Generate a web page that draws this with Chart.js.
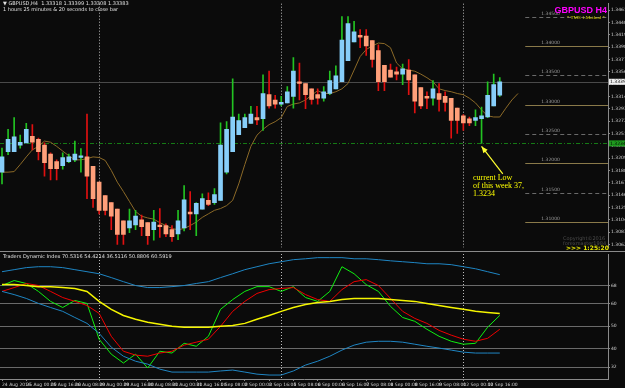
<!DOCTYPE html>
<html>
<head>
<meta charset="utf-8">
<script src="https://cdn.jsdelivr.net/npm/chart.js@4.4.0/dist/chart.umd.min.js"></script>
<style>
html, body { margin: 0; padding: 0; background: #0b0b0b; }
#wrap { position: relative; width: 625px; height: 388px; overflow: hidden; background: #0b0b0b; }
#main { position: absolute; left: 0; top: 0; }
#ind { position: absolute; left: 0; top: 251px; }
</style>
</head>
<body>
<div id="wrap">
  <canvas id="main" width="625" height="251"></canvas>
  <canvas id="ind" width="625" height="137"></canvas>
</div>
<script>
// ---------- candles (GBPUSD H4, 24 Aug 08:00 -> 13 Sep 00:00) ----------
const opens  = [1.3185,1.3220,1.3220,1.3231,1.3235,1.3246,1.3241,1.3231,1.3216,1.3203,
                1.3196,1.3203,1.3206,1.3210,1.3211,1.3195,1.3168,1.3145,1.3133,1.3122,
                1.3102,1.3090,1.3095,1.3104,1.3099,1.3087,1.3095,1.3094,1.3087,1.3080,
                1.3090,1.3117,1.3114,1.3122,1.3137,1.3133,1.3137,1.3185,1.3220,1.3249,
                1.3261,1.3268,1.3278,1.3276,1.3317,1.3308,1.3301,1.3303,1.3314,1.3339,
                1.3336,1.3327,1.3317,1.3311,1.3319,1.3327,1.3339,1.3375,1.3407,1.3418,
                1.3417,1.3409,1.3392,1.3367,1.3359,1.3356,1.3352,1.3359,1.3351,1.3329,
                1.3314,1.3311,1.3319,1.3314,1.3311,1.3294,1.3281,1.3276,1.3273,1.3276,
                1.3279,1.3298,1.3316];
const highs  = [1.3226,1.3258,1.3278,1.3248,1.3268,1.3266,1.3243,1.3235,1.3218,1.3206,
                1.3218,1.3216,1.3238,1.3225,1.3284,1.3195,1.3168,1.3145,1.3133,1.3122,
                1.3102,1.3122,1.3120,1.3112,1.3099,1.3120,1.3123,1.3097,1.3094,1.3120,
                1.3162,1.3152,1.3133,1.3148,1.3150,1.3157,1.3269,1.3271,1.3344,1.3284,
                1.3284,1.3297,1.3297,1.3351,1.3357,1.3316,1.3314,1.3331,1.3380,1.3371,
                1.3336,1.3327,1.3327,1.3331,1.3357,1.3366,1.3450,1.3450,1.3442,1.3428,
                1.3428,1.3409,1.3402,1.3367,1.3369,1.3364,1.3369,1.3377,1.3351,1.3329,
                1.3322,1.3341,1.3336,1.3322,1.3311,1.3294,1.3283,1.3279,1.3291,1.3296,
                1.3339,1.3352,1.3346];
const lows   = [1.3165,1.3215,1.3220,1.3226,1.3235,1.3223,1.3206,1.3178,1.3172,1.3172,
                1.3190,1.3201,1.3203,1.3185,1.3140,1.3125,1.3114,1.3112,1.3087,1.3062,
                1.3062,1.3082,1.3087,1.3077,1.3062,1.3069,1.3074,1.3075,1.3067,1.3070,
                1.3085,1.3087,1.3077,1.3122,1.3128,1.3130,1.3137,1.3182,1.3220,1.3249,
                1.3261,1.3268,1.3266,1.3256,1.3294,1.3294,1.3298,1.3303,1.3294,1.3308,
                1.3293,1.3301,1.3301,1.3306,1.3317,1.3327,1.3339,1.3375,1.3407,1.3397,
                1.3384,1.3364,1.3324,1.3324,1.3347,1.3342,1.3334,1.3317,1.3286,1.3293,
                1.3293,1.3299,1.3289,1.3289,1.3243,1.3251,1.3256,1.3264,1.3264,1.3234,
                1.3278,1.3298,1.3314];
const closes = [1.3211,1.3241,1.3245,1.3236,1.3258,1.3236,1.3220,1.3201,1.3191,1.3191,
                1.3210,1.3211,1.3216,1.3213,1.3178,1.3140,1.3120,1.3120,1.3110,1.3079,
                1.3079,1.3102,1.3110,1.3092,1.3077,1.3100,1.3092,1.3080,1.3075,1.3102,
                1.3138,1.3114,1.3132,1.3140,1.3130,1.3147,1.3231,1.3258,1.3279,1.3273,
                1.3278,1.3284,1.3274,1.3319,1.3298,1.3301,1.3304,1.3322,1.3357,1.3336,
                1.3317,1.3309,1.3311,1.3322,1.3341,1.3349,1.3410,1.3438,1.3424,1.3415,
                1.3400,1.3377,1.3339,1.3339,1.3347,1.3352,1.3361,1.3342,1.3306,1.3298,
                1.3311,1.3327,1.3309,1.3304,1.3273,1.3273,1.3269,1.3269,1.3278,1.3281,
                1.3316,1.3334,1.3339];

// displaced moving average (runs 3 bars past the last candle)
const maValues = [1.3185,1.3185,1.3186,1.3198,1.3211,1.3223,1.3229,1.3238,1.3236,1.3229,
                  1.3221,1.3213,1.3206,1.3206,1.3208,1.3211,1.3210,1.3205,1.3188,1.3168,
                  1.3152,1.3135,1.3118,1.3110,1.3107,1.3105,1.3099,1.3094,1.3089,1.3087,
                  1.3089,1.3094,1.3100,1.3108,1.3114,1.3120,1.3123,1.3128,1.3137,1.3165,
                  1.3198,1.3229,1.3248,1.3258,1.3266,1.3271,1.3278,1.3297,1.3301,1.3303,
                  1.3308,1.3316,1.3324,1.3319,1.3319,1.3322,1.3327,1.3336,1.3359,1.3382,
                  1.3394,1.3400,1.3405,1.3404,1.3397,1.3371,1.3361,1.3359,1.3357,1.3352,
                  1.3346,1.3339,1.3327,1.3324,1.3322,1.3319,1.3317,1.3311,1.3303,1.3291,
                  1.3281,1.3279,1.3279,1.3294,1.3308,1.3319];

// ---------- Traders Dynamic Index (sampled every 2 bars) ----------
const tdiIdx = [0,2,4,6,8,10,12,14,16,18,20,22,24,26,28,30,32,34,36,38,40,
                42,44,46,48,50,52,54,56,58,60,62,64,66,68,70,72,74,76,78,80,82];
const tdiUpper  = [74.1,75.0,75.9,76.3,76.3,75.9,75.0,74.1,73.2,71.5,69.7,68.0,67.1,67.1,67.5,68.0,68.9,69.7,71.5,73.2,75.0,
                   76.3,77.6,78.5,79.4,79.8,80.3,80.3,80.3,79.8,79.8,79.4,78.9,78.5,78.1,77.6,77.6,77.2,76.3,75.4,74.1,72.8];
const tdiLower  = [65.4,64.0,62.3,60.1,58.3,56.6,53.9,51.3,46.9,40.8,36.8,34.6,33.3,31.1,29.8,29.8,29.8,29.8,30.3,30.7,29.8,
                   28.9,28.5,28.5,30.3,32.9,34.6,36.8,39.5,41.7,43.0,43.4,43.4,43.0,42.1,41.2,40.4,39.5,38.6,38.2,38.2,38.2];
const tdiMid    = [68.4,68.4,68.0,67.5,67.5,67.1,66.7,65.4,61.0,57.5,54.8,53.1,51.8,50.9,50.0,49.6,49.6,49.6,50.0,50.4,51.3,
                   53.1,54.8,56.6,58.3,59.6,60.5,61.0,61.8,62.3,62.3,62.3,61.8,61.4,61.0,60.1,59.2,58.3,57.5,56.6,56.1,55.7];
const tdiRsi    = [68.0,70.2,68.9,65.4,61.0,58.3,61.4,60.1,44.3,37.7,33.8,37.7,31.6,39.0,38.2,42.5,41.2,45.6,57.5,61.8,65.4,
                   67.5,67.5,65.4,67.5,62.7,61.0,65.4,76.3,73.2,68.4,65.4,58.8,53.9,52.2,48.7,45.6,43.4,42.1,42.5,49.6,54.8];
const tdiSignal = [65.4,67.1,68.9,68.0,65.4,62.7,61.0,59.2,55.7,45.6,39.0,37.3,36.8,38.2,39.0,41.7,43.0,44.3,50.0,56.6,61.0,
                   64.5,66.2,66.7,67.1,64.0,61.8,61.0,66.2,69.7,70.6,68.0,62.3,56.6,53.5,51.3,48.2,46.1,44.3,43.4,44.7,48.7];
const tdiLevels = [68, 60, 50, 40, 32];

// ---------- axes ----------
const timeIdx = [0,4,8,12,16,20,24,28,32,36,40,44,48,52,56,60,64,68,72,76,80];
const timeLabels = ["24 Aug 2016","25 Aug 00:00","25 Aug 16:00","26 Aug 08:00","29 Aug 00:00","29 Aug 16:00",
                    "30 Aug 08:00","31 Aug 00:00","31 Aug 16:00","1 Sep 08:00","2 Sep 00:00","2 Sep 16:00",
                    "5 Sep 08:00","6 Sep 00:00","6 Sep 16:00","7 Sep 08:00","8 Sep 00:00","8 Sep 16:00",
                    "9 Sep 08:00","12 Sep 00:00","12 Sep 16:00"];
const weekSeparators = [16, 46, 76];
const priceTicks = [1.34610,1.34400,1.34190,1.33980,1.33770,1.33560,1.33350,1.33140,1.32930,1.32720,
                    1.32510,1.32300,1.32090,1.31880,1.31670,1.31460,1.31250,1.31040,1.30830,1.30620];
const roundLevels = [1.340, 1.330, 1.320, 1.310];
const halfLevels  = [1.345, 1.335, 1.325, 1.315];
const weekLow = 1.3234;
const lastPrice = 1.3339;

const X_MIN = -0.33, X_MAX = 99.83;
const BG = '#0b0b0b';
const FONT = 'DejaVu Sans';

Chart.defaults.font.family = FONT;
Chart.defaults.color = '#cfcfcf';

const bull = closes.map((c, i) => c >= opens[i]);

// ---------- overlay for the price window ----------
const priceOverlay = {
  id: 'priceOverlay',
  beforeDatasetsDraw(chart) {
    const { ctx, chartArea: a, scales: { x, y } } = chart;
    ctx.save();
    // week separators
    ctx.strokeStyle = '#bdbdbd';
    ctx.lineWidth = 1;
    ctx.setLineDash([1, 2]);
    weekSeparators.forEach(i => {
      const px = Math.round(x.getPixelForValue(i)) + 0.5;
      ctx.beginPath(); ctx.moveTo(px, a.top); ctx.lineTo(px, a.bottom); ctx.stroke();
    });
    // bid line
    ctx.setLineDash([]);
    ctx.strokeStyle = '#4a4a4a';
    let py = Math.round(y.getPixelForValue(lastPrice)) + 0.5;
    ctx.beginPath(); ctx.moveTo(a.left, py); ctx.lineTo(a.right, py); ctx.stroke();
    // week low line
    ctx.strokeStyle = '#157a15';
    ctx.setLineDash([4, 2, 1, 2]);
    py = Math.round(y.getPixelForValue(weekLow)) + 0.5;
    ctx.beginPath(); ctx.moveTo(a.left, py); ctx.lineTo(a.right, py); ctx.stroke();
    // price levels on the right
    const x0 = x.getPixelForValue(86.2);
    ctx.font = '4.5px ' + FONT;
    ctx.textAlign = 'left';
    ctx.textBaseline = 'bottom';
    roundLevels.forEach(v => {
      const ly = Math.round(y.getPixelForValue(v)) + 0.5;
      ctx.setLineDash([]);
      ctx.strokeStyle = '#8a7a4a';
      ctx.beginPath(); ctx.moveTo(x0, ly); ctx.lineTo(a.right, ly); ctx.stroke();
      ctx.fillStyle = '#9a9a9a';
      ctx.fillText(v.toFixed(5), x0 + 16, ly - 1);
    });
    halfLevels.forEach(v => {
      const ly = Math.round(y.getPixelForValue(v)) + 0.5;
      ctx.setLineDash([4, 3]);
      ctx.strokeStyle = '#6a6a6a';
      ctx.beginPath(); ctx.moveTo(x0, ly); ctx.lineTo(a.right, ly); ctx.stroke();
      ctx.fillStyle = '#9a9a9a';
      ctx.fillText(v.toFixed(5), x0 + 16, ly - 1);
    });
    ctx.restore();
  },
  afterDraw(chart) {
    const { ctx, chartArea: a, scales: { x, y } } = chart;
    ctx.save();
    // header
    ctx.font = '5px ' + FONT;
    ctx.fillStyle = '#e0e0e0';
    ctx.textAlign = 'left';
    ctx.textBaseline = 'middle';
    ctx.fillText('\u25BC GBPUSD,H4  1.33318 1.33399 1.33308 1.33383', 3, 4);
    ctx.fillText('1 hours 25 minutes & 20 seconds to close bar', 3, 10);
    // symbol badge
    ctx.font = 'bold 9px "Liberation Sans"';
    ctx.fillStyle = '#ff00ff';
    ctx.textAlign = 'right';
    ctx.fillText('GBPUSD H4', 607, 11);
    ctx.font = '5px "Liberation Serif"';
    ctx.fillStyle = '#d8d800';
    ctx.fillText('* TMS 1.Method *', 605, 18);
    // copyright + timer
    ctx.font = '5px ' + FONT;
    ctx.fillStyle = '#4c4c4c';
    ctx.textAlign = 'left';
    ctx.fillText('Copyright\u00A92016', 563, 239);
    ctx.fillText('forexmaster1984', 563, 244);
    ctx.font = 'bold 6px ' + FONT;
    ctx.fillStyle = '#e6e600';
    ctx.fillText('>>> 1:25:20', 566, 248);
    // annotation arrow
    const tx = x.getPixelForValue(79), ty = y.getPixelForValue(weekLow) + 3;
    const sx = x.getPixelForValue(82.5), sy = y.getPixelForValue(1.3182);
    ctx.strokeStyle = '#ffff30';
    ctx.fillStyle = '#ffff30';
    ctx.lineWidth = 1.2;
    ctx.beginPath(); ctx.moveTo(sx, sy); ctx.lineTo(tx, ty); ctx.stroke();
    const ang = Math.atan2(ty - sy, tx - sx);
    ctx.beginPath();
    ctx.moveTo(tx, ty);
    ctx.lineTo(tx - 7 * Math.cos(ang - 0.4), ty - 7 * Math.sin(ang - 0.4));
    ctx.lineTo(tx - 7 * Math.cos(ang + 0.4), ty - 7 * Math.sin(ang + 0.4));
    ctx.closePath(); ctx.fill();
    ctx.font = '8px "Liberation Serif"';
    ctx.fillStyle = '#ffff00';
    ctx.textAlign = 'left';
    ctx.fillText('current Low', 473, 178);
    ctx.fillText('of this week 37,', 473, 186);
    ctx.fillText('1.3234', 473, 194);
    // price boxes on the axis
    const box = (v, bg, fg) => {
      const by = y.getPixelForValue(v);
      ctx.fillStyle = bg;
      ctx.fillRect(a.right + 1, by - 3, 17, 6);
      ctx.fillStyle = fg;
      ctx.font = '4.5px ' + FONT;
      ctx.textAlign = 'left';
      ctx.fillText(v.toFixed(5), a.right + 2, by);
    };
    box(lastPrice, '#f0f0f0', '#000');
    box(weekLow, '#1e9a1e', '#000');
    ctx.restore();
  }
};

new Chart(document.getElementById('main'), {
  type: 'bar',
  data: {
    datasets: [
      {
        type: 'line',
        data: maValues.map((v, i) => ({ x: i, y: v })),
        borderColor: '#8c6a28',
        borderWidth: 1,
        pointRadius: 0,
        order: 3
      },
      {
        data: highs.map((h, i) => ({ x: i, y: [lows[i], h] })),
        backgroundColor: bull.map(b => b ? '#22c322' : '#e01010'),
        barThickness: 1,
        grouped: false,
        order: 2
      },
      {
        data: opens.map((o, i) => ({ x: i, y: [Math.min(o, closes[i]), Math.max(o, closes[i])] })),
        backgroundColor: bull.map(b => b ? '#87cefa' : '#ffa07a'),
        barThickness: 4,
        minBarLength: 1,
        grouped: false,
        order: 1
      }
    ]
  },
  options: {
    responsive: false,
    animation: false,
    devicePixelRatio: 1,
    layout: { padding: 0 },
    plugins: { legend: { display: false }, tooltip: { enabled: false } },
    scales: {
      x: { type: 'linear', min: X_MIN, max: X_MAX, display: false, offset: false },
      y: {
        position: 'right',
        min: 1.3057,
        max: 1.3472,
        afterFit(s) { s.width = 17; },
        afterBuildTicks(s) { s.ticks = priceTicks.map(v => ({ value: v })); },
        ticks: { callback: v => Number(v).toFixed(5), font: { size: 4.5 }, color: '#cfcfcf', padding: 1 },
        grid: { drawOnChartArea: false, tickLength: 2, color: '#8a8a8a' },
        border: { color: '#8a8a8a' }
      }
    }
  },
  plugins: [priceOverlay]
});

// ---------- indicator window ----------
const indOverlay = {
  id: 'indOverlay',
  beforeDatasetsDraw(chart) {
    const { ctx, chartArea: a, scales: { x } } = chart;
    ctx.save();
    ctx.strokeStyle = '#bdbdbd';
    ctx.lineWidth = 1;
    ctx.setLineDash([1, 2]);
    weekSeparators.forEach(i => {
      const px = Math.round(x.getPixelForValue(i)) + 0.5;
      ctx.beginPath(); ctx.moveTo(px, 0); ctx.lineTo(px, a.bottom); ctx.stroke();
    });
    ctx.setLineDash([]);
    ctx.strokeStyle = '#8a8a8a';
    ctx.beginPath(); ctx.moveTo(0, 0.5); ctx.lineTo(625, 0.5); ctx.stroke();
    ctx.restore();
  },
  afterDraw(chart) {
    const { ctx } = chart;
    ctx.save();
    ctx.font = '5px ' + FONT;
    ctx.fillStyle = '#e0e0e0';
    ctx.textBaseline = 'middle';
    ctx.fillText('Traders Dynamic Index 70.5316 54.4214 36.5116 50.8806 60.5919', 3, 6);
    ctx.restore();
  }
};

const tdiLine = (vals, color, width) => ({
  data: vals.map((v, k) => ({ x: tdiIdx[k], y: v })),
  borderColor: color,
  borderWidth: width,
  pointRadius: 0,
  tension: 0
});

new Chart(document.getElementById('ind'), {
  type: 'line',
  data: {
    datasets: [
      tdiLine(tdiUpper, '#1f86c4', 1),
      tdiLine(tdiLower, '#1f86c4', 1),
      tdiLine(tdiMid, '#f5f500', 1.5),
      tdiLine(tdiSignal, '#f00000', 1),
      tdiLine(tdiRsi, '#10f010', 1)
    ]
  },
  options: {
    responsive: false,
    animation: false,
    devicePixelRatio: 1,
    layout: { padding: { top: 2, left: 0, right: 0, bottom: 0 } },
    plugins: { legend: { display: false }, tooltip: { enabled: false } },
    scales: {
      x: {
        type: 'linear', min: X_MIN, max: X_MAX, offset: false,
        afterFit(s) { s.height = 9; },
        afterBuildTicks(s) { s.ticks = timeIdx.map(v => ({ value: v })); },
        ticks: {
          callback: v => timeLabels[timeIdx.indexOf(v)],
          autoSkip: false, maxRotation: 0, align: 'start',
          font: { size: 4.5 }, color: '#cfcfcf', padding: 1
        },
        grid: { drawOnChartArea: false, tickLength: 2, color: '#8a8a8a' },
        border: { color: '#8a8a8a' }
      },
      y: {
        position: 'right',
        min: 26.75,
        max: 81.6,
        afterFit(s) { s.width = 17; },
        afterBuildTicks(s) { s.ticks = tdiLevels.map(v => ({ value: v })); },
        ticks: { font: { size: 4.5 }, color: '#cfcfcf', padding: 1 },
        grid: { color: '#6a6a6a', tickLength: 2, tickColor: '#8a8a8a' },
        border: { color: '#8a8a8a', dash: [] }
      }
    }
  },
  plugins: [indOverlay]
});
</script>
</body>
</html>
